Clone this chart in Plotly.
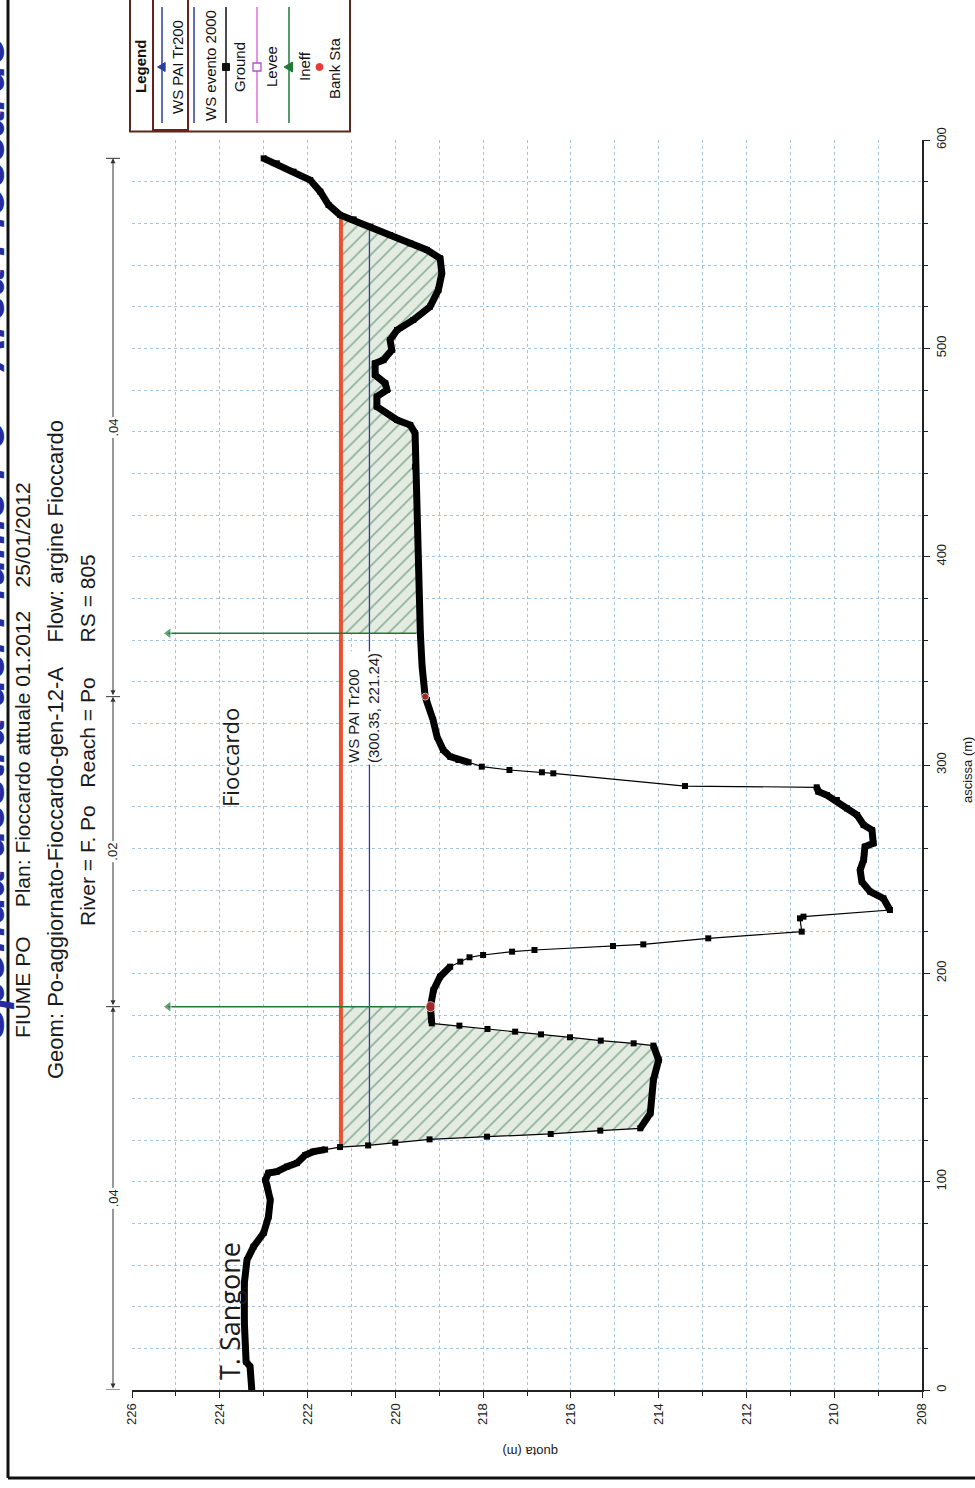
import plotly.graph_objects as go

# ---------------- data ----------------
ground_sta = [0, 11.2, 13.6, 32.2, 51.4, 62.4, 68.8, 75.4, 83.2, 91.2, 97.6, 100.8,
              104.2, 104.8, 107.2, 109.0, 112.8, 114.4, 115.4, 116.6, 117.4, 118.7,
              120.3, 121.6, 122.9, 124.5, 125.6, 132.8, 148.8, 158.4, 165.3, 166.4,
              167.7, 169.3, 170.7, 172.0, 173.3, 174.9, 176.0, 184.0, 192.0, 198.4,
              203.2, 205.6, 207.7, 208.8, 210.4, 211.2, 213.1, 213.9, 216.8, 220.0,
              226.4, 227.2, 230.4, 236.0, 239.2, 244.0, 249.6, 254.4, 260.8, 262.4,
              268.8, 271.2, 276.0, 279.2, 283.2, 285.6, 287.2, 289.3, 289.9, 296.0,
              296.5, 297.6, 299.2, 301.3, 302.4, 304.0, 307.2, 313.6, 321.6, 331.2,
              332.8, 347.2, 363.2, 395.2, 443.2, 459.2, 463.2, 465.6, 472.0, 476.8,
              480.0, 483.2, 487.2, 492.8, 494.4, 499.2, 504.0, 508.8, 513.6, 520.0,
              528.0, 536.0, 543.2, 547.2, 550.4, 554.4, 558.4, 561.9, 564.0, 568.8,
              575.2, 580.8, 584.8, 588.8, 591.2]
ground_q = [223.27, 223.31, 223.40, 223.44, 223.44, 223.38, 223.23, 223.00, 222.89, 222.85,
            222.92, 222.96, 222.89, 222.70, 222.47, 222.24, 222.05, 221.87, 221.60, 221.26,
            220.62, 220.00, 219.22, 217.91, 216.46, 215.33, 214.42, 214.19, 214.12, 214.00,
            214.12, 214.57, 215.32, 216.02, 216.68, 217.27, 217.90, 218.54, 219.17, 219.20,
            219.13, 218.98, 218.75, 218.52, 218.31, 218.00, 217.34, 216.83, 215.04, 214.35,
            212.87, 210.74, 210.78, 210.70, 208.73, 208.88, 209.18, 209.37, 209.41, 209.33,
            209.30, 209.11, 209.14, 209.33, 209.48, 209.71, 209.94, 210.17, 210.36, 210.40,
            213.40, 216.40, 216.66, 217.40, 218.03, 218.33, 218.56, 218.75, 218.91, 219.05,
            219.14, 219.28, 219.32, 219.39, 219.43, 219.47, 219.55, 219.55, 219.66, 219.96,
            220.42, 220.42, 220.19, 220.23, 220.46, 220.46, 220.27, 220.08, 220.12, 219.96,
            219.59, 219.21, 219.02, 218.94, 218.98, 219.28, 219.66, 220.12, 220.57, 220.95,
            221.26, 221.52, 221.71, 221.94, 222.32, 222.70, 223.00]

ws_pai_elev = 221.24
ws_pai_sta = [116.6, 564.0]
ws_2000_elev = 220.59
ws_2000_sta = [117.4, 558.4]
bank_sta = [184.0, 332.8]
bank_q = [219.20, 219.32]
ineff_sta = [184.0, 363.2]
ineff_ground_q = [219.20, 219.43]
ineff_elev = 225.17
n_bounds = [0, 184.0, 332.8, 591.2]
n_values = [".04", ".02", ".04"]

# segments where the survey points are so dense that the ground reads as a thick band
dense_ranges = [(0, 115.4), (125.6, 165.3), (176.0, 203.2), (230.4, 289.3), (301.3, 591.2)]

title_lines = ["FIUME PO     Plan: Fioccardo attuale 01.2012    25/01/2012",
               "Geom: Po-aggiornato-Fioccardo-gen-12-A    Flow: argine Fioccardo",
               "River = F. Po   Reach = Po      RS = 805"]
main_title = "Sponda destra del Fiume Po – Area Fioccardo"
legend_names = ["WS PAI Tr200", "WS evento 2000", "Ground", "Levee", "Ineff", "Bank Sta"]

# ---------------- layout helpers ----------------
W, H = 975, 1488
L, R, T, B = 132, 922, 140, 1390


def px(x):
    return (x - L) / (R - L)


def py(y):
    return (B - y) / (B - T)


def nb(s):
    return s.replace(" ", "\u00a0")


FONT = "Liberation Sans, Arial, sans-serif"
GRID = "#a3c4dc"


def label(x, y, text, size, angle=-90, **kw):
    d = dict(x=px(x), y=py(y), xref="paper", yref="paper", text=text, showarrow=False,
             textangle=angle, xanchor="center", yanchor="middle",
             font=dict(family=kw.pop("family", FONT), size=size, color=kw.pop("color", "#1a1a1a")))
    d.update(kw)
    return d


fig = go.Figure()

# hatched ineffective areas
left_poly = [(s, q) for s, q in zip(ground_sta, ground_q) if ws_pai_sta[0] <= s <= ineff_sta[0]]
right_poly = [(s, q) for s, q in zip(ground_sta, ground_q) if ineff_sta[1] <= s <= ws_pai_sta[1]]
for poly, s_a, s_b in [(left_poly, ws_pai_sta[0], ineff_sta[0]), (right_poly, ineff_sta[1], ws_pai_sta[1])]:
    ys = [p[0] for p in poly] + [s_b, s_a]
    xs = [p[1] for p in poly] + [ws_pai_elev, ws_pai_elev]
    fig.add_trace(go.Scatter(x=xs, y=ys, mode="lines", fill="toself",
                             fillcolor="#e4ece1",
                             fillpattern=dict(shape="/", fgcolor="#2f6f55", bgcolor="#e4ece1",
                                              size=10, solidity=0.16),
                             line=dict(width=0), showlegend=False, hoverinfo="skip"))

# water surfaces
fig.add_trace(go.Scatter(x=[ws_2000_elev, ws_2000_elev], y=ws_2000_sta, mode="lines",
                         line=dict(color="#2b3f9c", width=1.3), name=legend_names[1]))
fig.add_trace(go.Scatter(x=[ws_pai_elev, ws_pai_elev], y=ws_pai_sta, mode="lines",
                         line=dict(color="#e8502e", width=4), name=legend_names[0]))

# ineffective flow markers
for s, gq in zip(ineff_sta, ineff_ground_q):
    fig.add_trace(go.Scatter(x=[gq, ineff_elev], y=[s, s], mode="lines+markers",
                             line=dict(color="#1f7a3a", width=1.5),
                             marker=dict(symbol="triangle-left", size=[8, 10], color="#1f7a3a"),
                             showlegend=False, hoverinfo="skip"))

# ground: dense parts as thick band
tx, ty = [], []
for lo, hi in dense_ranges:
    for s, q in zip(ground_sta, ground_q):
        if lo <= s <= hi:
            tx.append(q)
            ty.append(s)
    tx.append(None)
    ty.append(None)
fig.add_trace(go.Scatter(x=tx, y=ty, mode="lines", line=dict(color="black", width=7),
                         showlegend=False, hoverinfo="skip"))
fig.add_trace(go.Scatter(x=ground_q, y=ground_sta, mode="lines+markers",
                         line=dict(color="black", width=1.2),
                         marker=dict(symbol="square", size=6, color="black"),
                         name=legend_names[2]))

# bank stations
fig.add_trace(go.Scatter(x=bank_q, y=bank_sta, mode="markers",
                         marker=dict(color="#e33a3a", size=[10, 7]), name=legend_names[5]))

shapes = []
ann = []

# Manning's n bar
bar_x = px(113)
for i, v in enumerate(n_values):
    ann.append(dict(x=bar_x, y=n_bounds[i + 1], xref="paper", yref="y",
                    ax=0, ay=n_bounds[i], axref="pixel", ayref="y",
                    text="", showarrow=True, arrowside="end+start", arrowhead=2,
                    arrowsize=1, arrowwidth=1, arrowcolor="#333", standoff=0, startstandoff=0))
    ann.append(dict(x=bar_x, y=(n_bounds[i] + n_bounds[i + 1]) / 2, xref="paper", yref="y",
                    text=v, showarrow=False, textangle=-90, bgcolor="white",
                    xanchor="center", yanchor="middle",
                    font=dict(family=FONT, size=13, color="#222")))
for b in n_bounds:
    shapes.append(dict(type="line", xref="paper", yref="y", x0=px(106), x1=px(120), y0=b, y1=b,
                       line=dict(color="#333", width=1)))

# titles (the first one is partly cut by the page edge, as in the source)
ann.append(label(-12, 538, "<b><i>" + main_title + "</i></b>", 46, color="#2a2aa0"))
for txt, xx, yy, fs in zip(title_lines, [22, 55, 87], [760, 750, 740], [21, 22, 21]):
    ann.append(label(xx, yy, nb(txt), fs))

# in-plot labels
ann.append(label(230, 758, "Fioccardo", 22, family="Open Sans, sans-serif"))
ann.append(label(229, 1311, "T. Sangone", 27, family="Open Sans, sans-serif"))
ann.append(label(363, 708, "WS PAI Tr200<br>(300.35, 221.24)", 15, align="left", bgcolor="white"))

# axis titles
ann.append(label(530, 1452, "quota (m)", 13, angle=180))
ann.append(label(967, 770, "ascissa (m)", 13))

# legend (drawn rotated)
shapes.append(dict(type="rect", xref="paper", yref="paper", x0=px(130), x1=px(350), y0=py(131.5), y1=py(-5),
                   line=dict(color="#5a2a1a", width=2), fillcolor="white", layer="above"))
shapes.append(dict(type="rect", xref="paper", yref="paper", x0=px(153), x1=px(188), y0=py(130), y1=py(-5),
                   line=dict(color="#6b2020", width=2), layer="above"))
ann.append(label(141, 67, "<b>Legend</b>", 15, color="#111"))
leg_line_x = [162, 194, 226, 257, 289]
leg_colors = ["#2b3f9c", "#2b3f9c", "#111111", "#e070d8", "#1f7a3a"]
for lx, c in zip(leg_line_x, leg_colors):
    shapes.append(dict(type="line", xref="paper", yref="paper", x0=px(lx), x1=px(lx), y0=py(7), y1=py(123),
                       line=dict(color=c, width=1.5), layer="above"))


def tri_left(cx, cy, s, color):
    path = "M {} {} L {} {} L {} {} Z".format(px(cx - s), py(cy), px(cx + 0.7 * s), py(cy - s),
                                              px(cx + 0.7 * s), py(cy + s))
    return dict(type="path", xref="paper", yref="paper", path=path, fillcolor=color,
                line=dict(color=color, width=1), layer="above")


shapes.append(tri_left(162, 67, 4.5, "#2b3f9c"))
shapes.append(tri_left(289, 67, 5, "#1f7a3a"))
shapes.append(dict(type="rect", xref="paper", yref="paper", x0=px(222.5), x1=px(229.5), y0=py(70.5), y1=py(63.5),
                   fillcolor="#111", line=dict(color="#111", width=1), layer="above"))
shapes.append(dict(type="rect", xref="paper", yref="paper", x0=px(253), x1=px(261), y0=py(71), y1=py(63),
                   fillcolor="white", line=dict(color="#b050d0", width=1.3), layer="above"))
shapes.append(dict(type="circle", xref="paper", yref="paper", x0=px(316), x1=px(323), y0=py(70.5), y1=py(63.5),
                   fillcolor="#e33a3a", line=dict(color="#e33a3a", width=1), layer="above"))
for name, tx_, ty_ in zip(legend_names, [178, 210, 240, 272, 304, 335], [67, 66, 67, 67, 66, 68]):
    ann.append(label(tx_, ty_, name, 15, color="#111"))

# outer frame
shapes.append(dict(type="line", xref="paper", yref="paper", x0=px(8), x1=px(8), y0=py(-5), y1=py(1478),
                   line=dict(color="#111", width=3)))
shapes.append(dict(type="line", xref="paper", yref="paper", x0=px(8), x1=px(980), y0=py(1478), y1=py(1478),
                   line=dict(color="#111", width=3)))

fig.update_layout(
    width=W, height=H,
    margin=dict(l=L, r=W - R, t=T, b=H - B),
    paper_bgcolor="white", plot_bgcolor="white",
    showlegend=False,
    shapes=shapes, annotations=ann,
    font=dict(family=FONT, size=12, color="#222"),
    xaxis=dict(range=[226, 208], tick0=208, dtick=2, tickangle=-90, ticks="outside", ticklen=6,
               tickcolor="#222", showline=True, linecolor="#222", linewidth=2, zeroline=False,
               showgrid=True, gridcolor=GRID, griddash="dot", gridwidth=1,
               tickfont=dict(family=FONT, size=13, color="#222"),
               minor=dict(dtick=1, tick0=208, showgrid=True, gridcolor=GRID, griddash="dot",
                          ticks="outside", ticklen=4, tickcolor="#222")),
    yaxis=dict(range=[0, 600], side="right", tick0=0, dtick=100, tickangle=-90, ticks="outside", ticklen=6,
               tickcolor="#222", showline=True, linecolor="#222", linewidth=2, zeroline=False,
               showgrid=True, gridcolor=GRID, griddash="dot", gridwidth=1,
               tickfont=dict(family=FONT, size=13, color="#222"),
               minor=dict(dtick=20, tick0=0, showgrid=True, gridcolor=GRID, griddash="dot",
                          ticks="outside", ticklen=4, tickcolor="#222")),
)

fig.write_html("out.html")
